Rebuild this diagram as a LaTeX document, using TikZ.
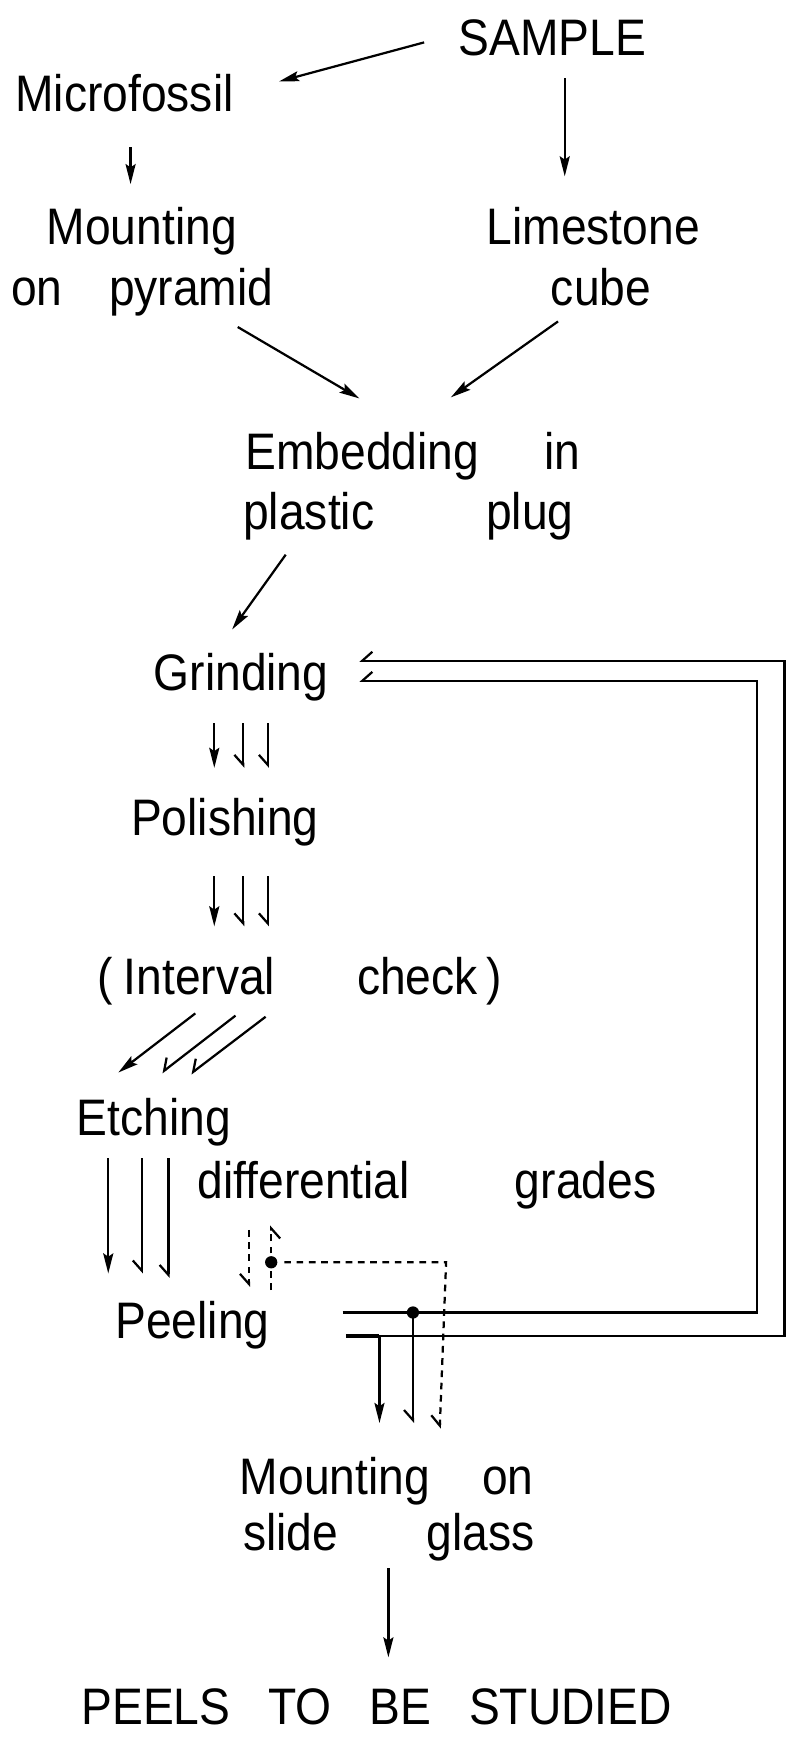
\documentclass[tikz,border=0pt]{standalone}
\usepackage{fontspec}
\setmainfont{Liberation Sans}[FakeStretch=0.9]
\usetikzlibrary{arrows.meta,calc}
\begin{document}
\begin{tikzpicture}[x=1pt,y=-1pt]
\tikzset{
 lbl/.style={anchor=base, inner sep=0pt, font=\fontsize{46}{51}\selectfont},
 ln/.style={line width=2pt},
 arr/.style={ln, -{Stealth[length=18pt,width=9pt,inset=3pt]}},
 harp/.style={ln, -{Straight Barb[harpoon,swap,length=9pt,width=16pt]}},
 dsh/.style={dash pattern=on 6pt off 5pt},
 blob/.style={circle, fill, inner sep=0pt, minimum size=11pt}
}
\useasboundingbox[fill=white] (0,0) rectangle (717,1568);
% texts
\node[lbl] (sample) at (495,50) {SAMPLE};
\node[lbl] (micro) at (111.5,100) {Microfossil};
\node[lbl] (mount1) at (127,219) {Mounting};
\node[lbl] (pyr) at (127.5,274) {\makebox[235pt]{on\hfill pyramid}};
\node[lbl] (lime) at (531.5,219) {Limestone};
\node[lbl] (cube) at (538.5,274) {cube};
\node[lbl] (embed1) at (370,421) {\makebox[300pt]{Embedding\hfill in}};
\node[lbl] (embed2) at (366,474) {\makebox[296pt]{plastic\hfill plug}};
\node[lbl] (grind) at (216,619) {Grinding};
\node[lbl] (polish) at (201.5,749) {Polishing};
\node[lbl] (interval) at (268.5,891) {\makebox[363pt]{(\hspace{10pt}Interval\hfill check\hspace{8pt})}};
\node[lbl] (etch) at (138,1017) {Etching};
\node[lbl] (diff) at (382.5,1074) {\makebox[411pt]{differential\hfill grades}};
\node[lbl] (peel) at (172.5,1199) {Peeling};
\node[lbl] (mount2) at (346.5,1339) {\makebox[263pt]{Mounting\hfill on}};
\node[lbl] (slide) at (348.5,1389) {\makebox[261pt]{slide\hfill glass}};
\node[lbl] (peels) at (337.5,1545) {\makebox[529pt]{PEELS\hfill TO\hfill BE\hfill STUDIED}};
% top arrows
\draw[arr] ([xshift=-115pt,yshift=12pt]sample.base) -- ([xshift=138.5pt,yshift=27pt]micro.base);
\draw[arr] ([xshift=5.5pt,yshift=-32pt]micro.base) -- ([xshift=-10pt,yshift=54pt]mount1.base);
\draw[arr] ([xshift=11pt,yshift=-20pt]sample.base) -- ([xshift=-25.5pt,yshift=61pt]lime.base);
\draw[arr] ([xshift=85.5pt,yshift=-19pt]pyr.base) -- ([xshift=-48pt,yshift=64pt]embed1.base);
\draw[arr] ([xshift=-38.5pt,yshift=-14pt]cube.base) -- ([xshift=34pt,yshift=65pt]embed1.base);
\draw[arr] ([xshift=-110pt,yshift=-23pt]embed2.base) -- ([xshift=-8pt,yshift=55pt]grind.base);
% grinding -> polishing
\draw[arr]  ([xshift=-24pt,yshift=-29pt]grind.base) -- ([xshift=-9.5pt,yshift=61pt]polish.base);
\draw[harp] ([xshift=2pt,yshift=-29pt]grind.base) -- ([xshift=16.5pt,yshift=61pt]polish.base);
\draw[harp] ([xshift=24pt,yshift=-29pt]grind.base) -- ([xshift=38.5pt,yshift=61pt]polish.base);
% polishing -> interval check
\draw[arr]  ([xshift=-9.5pt,yshift=-36pt]polish.base) -- ([xshift=-76.5pt,yshift=61pt]interval.base);
\draw[harp] ([xshift=16.5pt,yshift=-36pt]polish.base) -- ([xshift=-50.5pt,yshift=61pt]interval.base);
\draw[harp] ([xshift=38.5pt,yshift=-36pt]polish.base) -- ([xshift=-28.5pt,yshift=61pt]interval.base);
% interval -> etching
\draw[arr]  ([xshift=-93.5pt,yshift=-17pt]interval.base) -- ([xshift=-32pt,yshift=56pt]etch.base);
\draw[harp] ([xshift=-57.5pt,yshift=-19pt]interval.base) -- ([xshift=7pt,yshift=56pt]etch.base);
\draw[harp] ([xshift=-30.5pt,yshift=-20pt]interval.base) -- ([xshift=33pt,yshift=55pt]etch.base);
% etching -> peeling
\draw[arr]  ([xshift=-41pt,yshift=-21pt]etch.base) -- ([xshift=-75.5pt,yshift=58pt]peel.base);
\draw[harp] ([xshift=-11pt,yshift=-21pt]etch.base) -- ([xshift=-45.5pt,yshift=58pt]peel.base);
\draw[harp] ([xshift=13pt,yshift=-21pt]etch.base) -- ([xshift=-21.5pt,yshift=54pt]peel.base);
% feedback loops to grinding
\draw[harp] ([xshift=137.5pt,yshift=2pt]peel.base) -- ++(393,0) |- ([xshift=106pt,yshift=27pt]grind.base);
\draw[harp] ([xshift=134.5pt,yshift=23pt]peel.base) -- ++(371.5,0) |- ([xshift=106pt,yshift=9pt]grind.base);
\draw[line width=3pt] ([xshift=137.5pt,yshift=2pt]peel.base) -- ([xshift=167.5pt,yshift=2pt]peel.base);
% branches to mounting
\node[blob] (d1) at ([xshift=197.5pt,yshift=23pt]peel.base) {};
\draw[arr] ([xshift=167.5pt,yshift=2pt]peel.base) -- ([xshift=-6.5pt,yshift=64pt]mount2.base);
\draw[harp] (d1.center) -- ([xshift=23.5pt,yshift=64pt]mount2.base);
% dashed paths
\node[blob] (d2) at ([xshift=70.5pt,yshift=68pt]peel.base) {};
\draw[harp,dsh] ([xshift=70.5pt,yshift=43pt]peel.base) -- ([xshift=-139.5pt,yshift=-24pt]diff.base);
\draw[harp,dsh] ([xshift=-159.5pt,yshift=-28pt]diff.base) -- ([xshift=50.5pt,yshift=46pt]peel.base);
\draw[harp,dsh] (d2.east) ++(6,0) -- ++(145,0) -- ([xshift=47.5pt,yshift=59pt]mount2.base);
% final
\draw[arr] ([xshift=-0.5pt,yshift=-16pt]slide.base) -- ([xshift=10.5pt,yshift=60pt]peels.base);
\end{tikzpicture}
\end{document}
